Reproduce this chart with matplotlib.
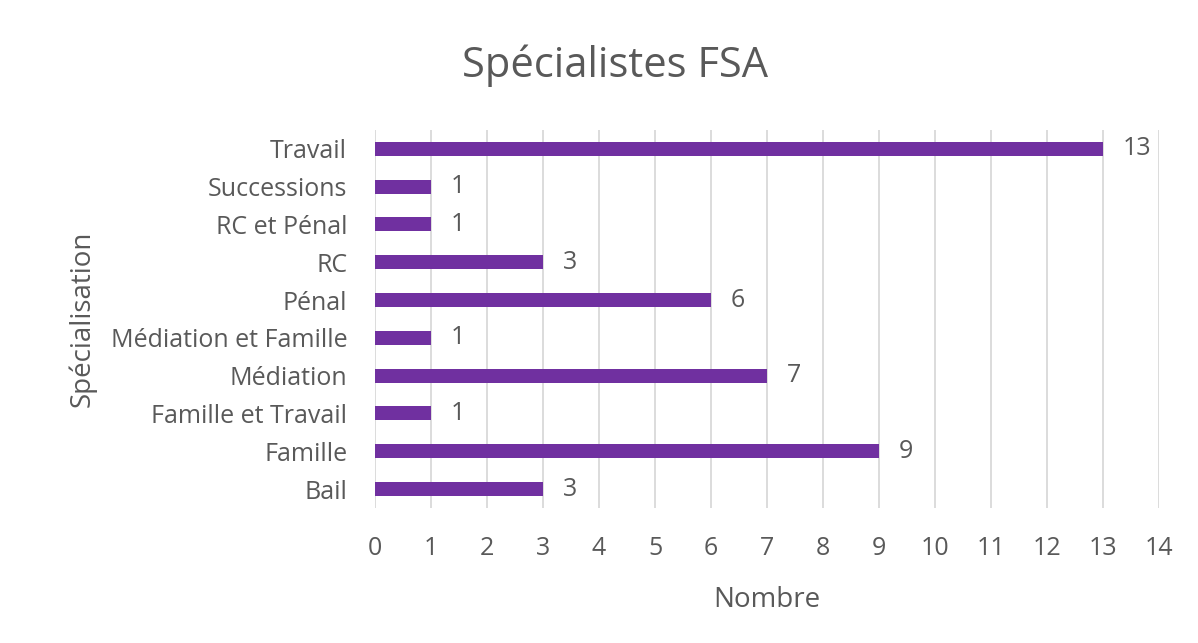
import matplotlib.pyplot as plt
import numpy as np

plt.rcParams['font.family'] = ['Open Sans', 'DejaVu Sans']

categories = ["Bail", "Famille", "Famille et Travail", "Médiation", "Médiation et Famille",
              "Pénal", "RC", "RC et Pénal", "Successions", "Travail"]
values = [3, 9, 1, 7, 1, 6, 3, 1, 1, 13]

grey = '#595959'
fig = plt.figure(figsize=(11.98, 6.43), dpi=100)
ax = fig.add_axes([0.313, 0.21, 0.6545, 0.588])

y = np.arange(len(categories))
ax.barh(y, values, height=0.37, color='#7030A0', zorder=3)
for yi, v in zip(y, values):
    ax.text(v + 0.35, yi, str(v), va='center', ha='left', fontsize=18, color=grey)

ax.set_xlim(0, 14)
ax.set_ylim(-0.5, len(categories) - 0.5)
ax.set_xticks(range(15))
ax.set_yticks(y)
ax.set_yticklabels(categories)
ax.tick_params(axis='both', length=0, labelsize=18, colors=grey)
ax.tick_params(axis='x', pad=20)
ax.tick_params(axis='y', pad=20)
ax.grid(axis='x', color='#d9d9d9', linewidth=1.3, zorder=0)
for s in ax.spines.values():
    s.set_visible(False)

ax.set_xlabel('Nombre', fontsize=20, color=grey, labelpad=18)
ax.set_ylabel('Spécialisation', fontsize=20, color=grey, labelpad=10)
fig.text(0.513, 0.897, 'Spécialistes FSA', ha='center', va='center', fontsize=30, color=grey)

fig.savefig('out.png', dpi=100)
